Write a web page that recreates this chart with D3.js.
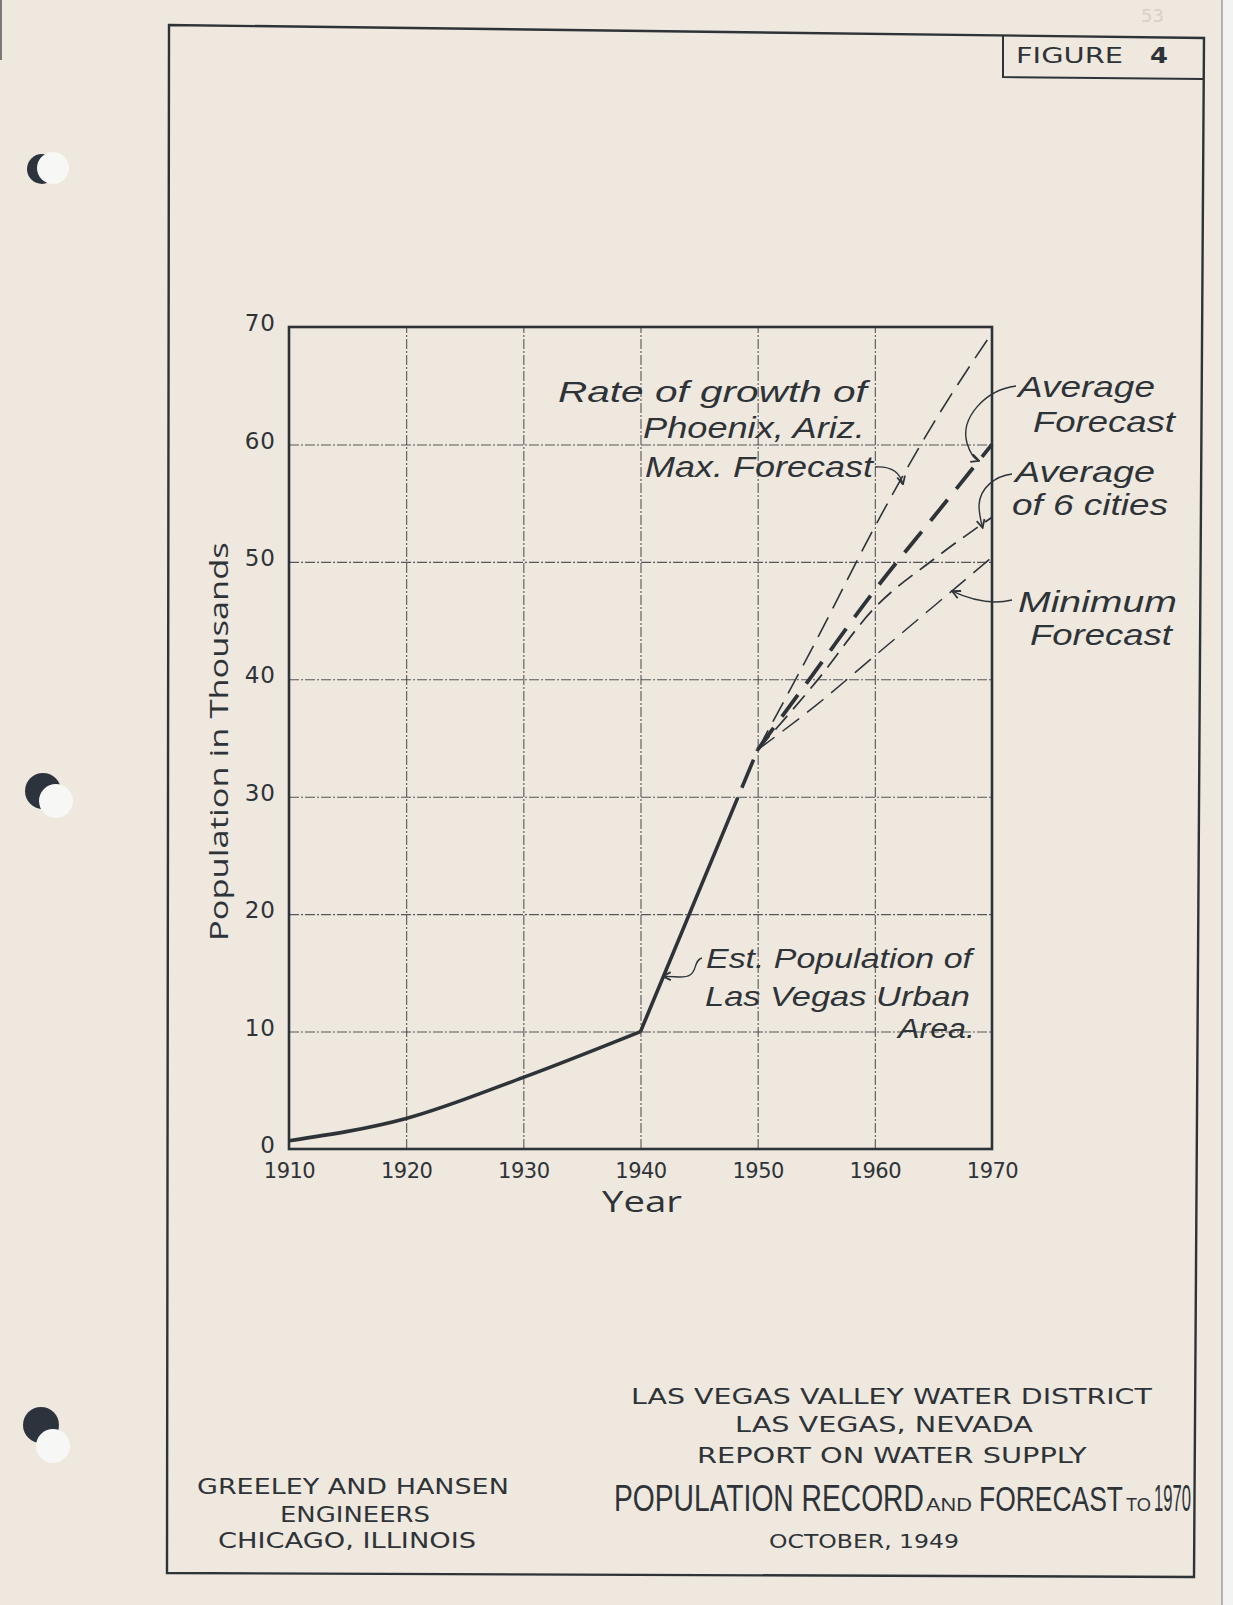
<!DOCTYPE html>
<html><head><meta charset="utf-8">
<script src="https://cdn.jsdelivr.net/npm/d3@7"></script>
<style>
html,body{margin:0;padding:0;background:#eee8de;}
svg{display:block;}
</style></head><body>
<script>
// ---- data ----
const xTickYears = [1910,1920,1930,1940,1950,1960,1970];
const yTickValues = [0,10,20,30,40,50,60,70];
const estYears = [1910,1920,1930,1940,1950];
const estPopulation = [0.7,2.6,6.1,10,34];
const forecastYears = [1950,1955,1960,1965,1970];
const maxForecast = [34,43.3,53,61.8,69.5];
const averageForecast = [34,40.8,47.6,53.8,60];
const averageSixCities = [34,39.8,46.1,50.2,53.8];
const minimumForecast = [34,37.8,42,46.2,50.4];

const W=1233,H=1605;
const ink="#2e3338";
const paper="#eee8de";
const svg=d3.select("body").append("svg").attr("width",W).attr("height",H);
svg.append("rect").attr("width",W).attr("height",H).attr("fill",paper);
// paper edge at right
svg.append("rect").attr("x",1222).attr("y",0).attr("width",11).attr("height",H).attr("fill","#f3f3f1");
svg.append("line").attr("x1",1222).attr("x2",1222).attr("y1",0).attr("y2",H).attr("stroke","#8a8a86").attr("stroke-width",1.2);
svg.append("line").attr("x1",1).attr("x2",1).attr("y1",0).attr("y2",60).attr("stroke","#555").attr("stroke-width",1.5);

// punch holes
const holes=[{d:[42,169,15],w:[53,168,16]},{d:[43,791,18],w:[56,801,17]},{d:[41,1425,18],w:[53,1446,17]}];
holes.forEach(h=>{
  svg.append("circle").attr("cx",h.d[0]).attr("cy",h.d[1]).attr("r",h.d[2]).attr("fill","#2d333d");
  svg.append("circle").attr("cx",h.w[0]).attr("cy",h.w[1]).attr("r",h.w[2]).attr("fill","#f7f7f5");
});

// frame
svg.append("path").attr("d","M169,25 L1204,38 L1194,1577 L167,1573 Z")
  .attr("fill","none").attr("stroke",ink).attr("stroke-width",2.4);
svg.append("path").attr("d","M1003,35 L1003,77 L1204,79").attr("fill","none").attr("stroke",ink).attr("stroke-width",2);
svg.append("text").attr("x",1141).attr("y",22).text("53").attr("font-family","DejaVu Sans").attr("font-size",18).attr("fill","#d8d1c6");

function fitText(parent,str,x0,x1,baseline,o){
  const t=parent.append("text").attr("x",0).attr("y",0).text(str)
    .attr("font-family",o.family||"DejaVu Sans").attr("font-size",o.size)
    .attr("font-style",o.style||"normal").attr("font-weight",o.weight||400)
    .attr("fill",ink);
  const L=t.node().getComputedTextLength();
  const s=(x1-x0)/L;
  t.attr("transform",`translate(${x0},${baseline}) scale(${s},1)`);
  return t;
}

// figure label
fitText(svg,"FIGURE",1016,1123,63,{size:21});
fitText(svg,"4",1150,1168,63,{size:21,weight:700});

// ---- scales ----
const x=d3.scaleLinear().domain([1910,1970]).range([289,992]);
const y=d3.scaleLinear().domain([0,70]).range([1149,327]);
const plotH=y(0)-y(70), plotW=x(1970)-x(1910);

// grid
const g=svg.append("g");
g.append("g").attr("transform",`translate(0,${y(0)})`)
  .call(d3.axisBottom(x).tickValues(xTickYears.slice(1,-1)).tickSize(-plotH).tickFormat(""))
  .call(a=>a.select(".domain").remove())
  .selectAll("line").attr("stroke",ink).attr("stroke-width",1.1).attr("stroke-dasharray","10 2 2 2").attr("opacity",0.8);
g.append("g").attr("transform",`translate(${x(1910)},0)`)
  .call(d3.axisLeft(y).tickValues(yTickValues.slice(1,-1)).tickSize(-plotW).tickFormat(""))
  .call(a=>a.select(".domain").remove())
  .selectAll("line").attr("stroke",ink).attr("stroke-width",1.1).attr("stroke-dasharray","10 2 2 2").attr("opacity",0.8);

// plot border
svg.append("rect").attr("x",x(1910)).attr("y",y(70)).attr("width",plotW).attr("height",plotH)
  .attr("fill","none").attr("stroke",ink).attr("stroke-width",2.6);

// tick labels
const xa=svg.append("g").attr("transform",`translate(0,${y(0)})`)
  .call(d3.axisBottom(x).tickValues(xTickYears).tickSize(0).tickPadding(14).tickFormat(d3.format("d")));
xa.select(".domain").remove();
xa.selectAll("text").attr("font-family","DejaVu Sans").attr("font-size",21).attr("fill",ink).attr("letter-spacing",-0.5);
const ya=svg.append("g").attr("transform",`translate(${x(1910)},0)`)
  .call(d3.axisLeft(y).tickValues(yTickValues).tickSize(0).tickPadding(13));
ya.select(".domain").remove();
ya.selectAll("text").attr("font-family","DejaVu Sans").attr("font-size",23).attr("fill",ink).attr("dy","0.16em").attr("letter-spacing",1);

// axis titles
fitText(svg,"Year",602,682,1212,{size:30,family:"Open Sans"});
const yl=svg.append("text").text("Population in Thousands").attr("font-family","Open Sans").attr("font-size",25).attr("fill",ink);
{const L=yl.node().getComputedTextLength(); yl.attr("transform",`translate(228,941) rotate(-90) scale(${399/L},1)`);}

// ---- lines ----
const pts=(xs,vs)=>xs.map((d,i)=>[x(d),y(vs[i])]);
const curve=d3.line().curve(d3.curveMonotoneX);
const straight=d3.line();
const est=pts(estYears,estPopulation);
svg.append("path").attr("d",curve(est.slice(0,4))).attr("fill","none").attr("stroke",ink).attr("stroke-width",3.6).attr("stroke-linejoin","round");
const estTail=svg.append("path").attr("d",straight(est.slice(3))).attr("fill","none").attr("stroke",ink).attr("stroke-width",3.6);
{const L=estTail.node().getTotalLength(); estTail.attr("stroke-dasharray",`${L*0.83} ${L*0.035} ${L*0.1} ${L*0.03} ${L}`);}

const series=[
  {v:maxForecast,w:1.6,dash:"22 10"},
  {v:averageForecast,w:3.8,dash:"27 14"},
  {v:averageSixCities,w:1.7,dash:"18 9"},
  {v:minimumForecast,w:1.5,dash:"21 10"}
];
series.forEach(s=>{
  svg.append("path").attr("d",curve(pts(forecastYears,s.v))).attr("fill","none")
    .attr("stroke",ink).attr("stroke-width",s.w).attr("stroke-dasharray",s.dash);
});

// ---- annotations ----
const A={style:"italic",family:"Liberation Sans",size:29};
const B={style:"italic",family:"Liberation Sans",size:27};
fitText(svg,"Rate of growth of",558,867,402,A);
fitText(svg,"Phoenix, Ariz.",643,865,438,A);
fitText(svg,"Max. Forecast",645,873,477,A);
fitText(svg,"Average",1018,1155,397,A);
fitText(svg,"Forecast",1033,1175,432,A);
fitText(svg,"Average",1015,1155,482,A);
fitText(svg,"of 6 cities",1012,1168,515,A);
fitText(svg,"Minimum",1018,1177,612,A);
fitText(svg,"Forecast",1030,1172,645,A);
fitText(svg,"Est. Population of",706,972,968,B);
fitText(svg,"Las Vegas  Urban",705,970,1006,B);
fitText(svg,"Area.",898,975,1038,B);

const defs=svg.append("defs");
defs.append("marker").attr("id","ah").attr("viewBox","0 0 10 10").attr("refX",9).attr("refY",5)
  .attr("markerWidth",10).attr("markerHeight",10).attr("markerUnits","userSpaceOnUse").attr("orient","auto")
  .append("path").attr("d","M1,1 L9,5 L1,9").attr("fill","none").attr("stroke",ink).attr("stroke-width",1.8);
const leader=d=>svg.append("path").attr("d",d).attr("fill","none").attr("stroke",ink).attr("stroke-width",1.4).attr("marker-end","url(#ah)");
leader(`M875,467 C890,466 900,472 ${x(1962.4)},${y(56.6)}`);
leader(`M1016,386 C985,390 960,418 967,443 C970,453 974,459 ${x(1968.9)},${y(58.6)}`);
leader(`M1012,474 C995,476 980,488 979,505 C979,512 980,518 ${x(1969.2)},${y(52.9)}`);
leader(`M1012,600 C995,604 975,602 ${x(1966.6)},${y(47.5)}`);
leader(`M702,958 C694,960 697,971 690,975 C684,979 676,976 ${x(1941.9)},${y(14.7)}`);

// ---- title block ----
const T={family:"DejaVu Sans",size:22};
fitText(svg,"LAS VEGAS  VALLEY  WATER  DISTRICT",631,1152,1404,T);
fitText(svg,"LAS VEGAS, NEVADA",735,1033,1432,T);
fitText(svg,"REPORT ON WATER SUPPLY",697,1087,1463,T);
const Big={family:"Liberation Sans",size:36}, Small={family:"Liberation Sans",size:19};
fitText(svg,"POPULATION RECORD",614,924,1511,Big);
fitText(svg,"AND",926,972,1511,Small);
fitText(svg,"FORECAST",979,1123,1511,Big);
fitText(svg,"TO",1126,1151,1511,Small);
fitText(svg,"1970",1154,1191,1511,Big);
fitText(svg,"OCTOBER, 1949",769,959,1548,{family:"DejaVu Sans",size:20});
fitText(svg,"GREELEY AND HANSEN",197,509,1494,T);
fitText(svg,"ENGINEERS",280,430,1522,T);
fitText(svg,"CHICAGO, ILLINOIS",218,476,1548,T);
</script>
</body></html>
